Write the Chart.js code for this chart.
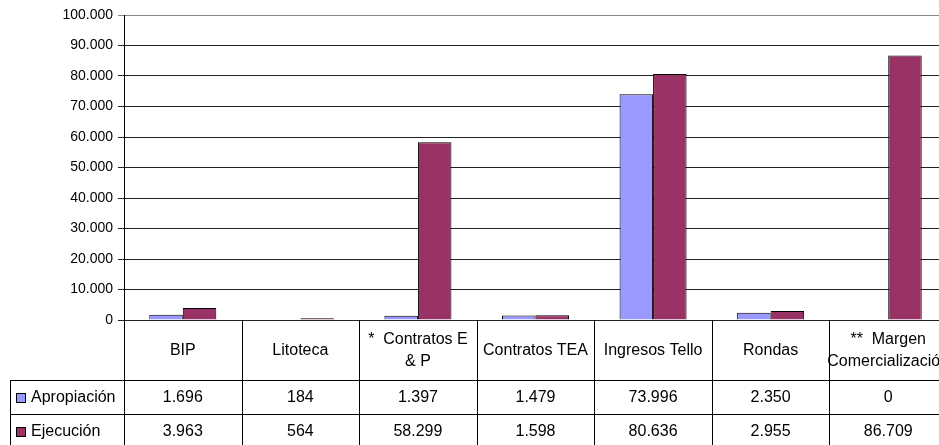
<!DOCTYPE html>
<html><head><meta charset="utf-8">
<script src="https://cdn.jsdelivr.net/npm/chart.js@4.4.1/dist/chart.umd.min.js"></script>
<style>
html,body{margin:0;padding:0;background:#fff;overflow:hidden}
#wrap{width:939px;height:445px;overflow:hidden;position:relative;background:#fff}
canvas{display:block}
</style></head>
<body><div id="wrap"><canvas id="c" width="948" height="450"></canvas></div>
<script>
const categories = ['BIP','Litoteca','* Contratos E & P','Contratos TEA','Ingresos Tello','Rondas','** Margen Comercialización'];
const categoryLines = [['BIP'],['Litoteca'],['*  Contratos E','& P'],['Contratos TEA'],['Ingresos Tello'],['Rondas'],['**  Margen','Comercialización']];
const seriesNames = ['Apropiación','Ejecución'];
const apropiacion = [1696,184,1397,1479,73996,2350,0];
const ejecucion = [3963,564,58299,1598,80636,2955,86709];
const yTicks = [0,10000,20000,30000,40000,50000,60000,70000,80000,90000,100000];

const seriesColors = ['#9999FF','#993366'];
const FONT = '"Liberation Sans", Arial, sans-serif';

function fmt(v){ return String(v).replace(/\B(?=(\d{3})+(?!\d))/g,'.'); }

const dataTable = {
  id:'dataTable',
  afterDraw(chart){
    const ctx = chart.ctx, xs = chart.scales.x, a = chart.chartArea;
    const n = categories.length;
    const w = (a.right - a.left) / n;
    const top = Math.round(a.bottom);
    const row1 = top + 60, row2 = row1 + 34, bottom = chart.height;
    ctx.save();
    ctx.strokeStyle = '#000'; ctx.lineWidth = 1;
    ctx.beginPath();
    for (let i = 0; i <= n; i++) {
      const px = Math.round(a.left + i*w) + 0.5;
      ctx.moveTo(px, top); ctx.lineTo(px, bottom);
    }
    ctx.moveTo(10.5, row1); ctx.lineTo(10.5, bottom);
    ctx.moveTo(10, row1 + 0.5); ctx.lineTo(chart.width, row1 + 0.5);
    ctx.moveTo(10, row2 + 0.5); ctx.lineTo(chart.width, row2 + 0.5);
    ctx.stroke();

    ctx.fillStyle = '#000';
    ctx.font = '16px ' + FONT;
    ctx.textAlign = 'center'; ctx.textBaseline = 'middle';
    const catMid = (top + row1) / 2 + 1;
    categoryLines.forEach((lines, i) => {
      const cx = xs.getPixelForValue(i);
      const lh = 22;
      const y0 = catMid - (lines.length - 1) * lh / 2;
      lines.forEach((t, k) => ctx.fillText(t, cx, y0 + k*lh));
    });
    const rows = [apropiacion, ejecucion];
    const rowMids = [(row1 + row2)/2 + 0.5, (row2 + row2 + 34)/2 + 0.5];
    rows.forEach((vals, r) => {
      const ym = rowMids[r];
      vals.forEach((v, i) => ctx.fillText(fmt(v), xs.getPixelForValue(i), ym));
      ctx.fillStyle = seriesColors[r];
      ctx.fillRect(16, Math.round(ym) - 5, 10, 10);
      ctx.strokeStyle = '#000';
      ctx.strokeRect(16.5, Math.round(ym) - 4.5, 9, 9);
      ctx.fillStyle = '#000';
      ctx.textAlign = 'left';
      ctx.fillText(seriesNames[r], 31, ym);
      ctx.textAlign = 'center';
    });
    ctx.restore();
  }
};

new Chart(document.getElementById('c'), {
  type: 'bar',
  data: {
    labels: categories,
    datasets: [
      {label: seriesNames[0], data: apropiacion, backgroundColor: seriesColors[0], borderColor: '#000', borderWidth: 1, categoryPercentage: 0.57, barPercentage: 1.0},
      {label: seriesNames[1], data: ejecucion, backgroundColor: seriesColors[1], borderColor: '#000', borderWidth: 1, categoryPercentage: 0.57, barPercentage: 1.0}
    ]
  },
  options: {
    responsive: false,
    devicePixelRatio: 1,
    animation: false,
    layout: {padding: {top: 15, right: 1, left: 0, bottom: 0}},
    plugins: {legend: {display: false}, tooltip: {enabled: false}},
    scales: {
      x: {
        ticks: {display: false},
        grid: {display: false, drawTicks: false},
        border: {display: false},
        afterFit(s){ s.height = 130; }
      },
      y: {
        min: 0, max: 100000,
        afterBuildTicks(s){ s.ticks = yTicks.map(v => ({value: v})); },
        ticks: {callback: v => fmt(v), font: {family: FONT, size: 14}, color: '#000', padding: 5},
        grid: {color: c => (c.tick && c.tick.value === 100000) ? '#888' : '#222', tickLength: 6, drawTicks: true},
        border: {display: true, color: '#000', width: 1},
        afterFit(s){ s.width = 124; }
      }
    }
  },
  plugins: [dataTable]
});
</script>
</body></html>
